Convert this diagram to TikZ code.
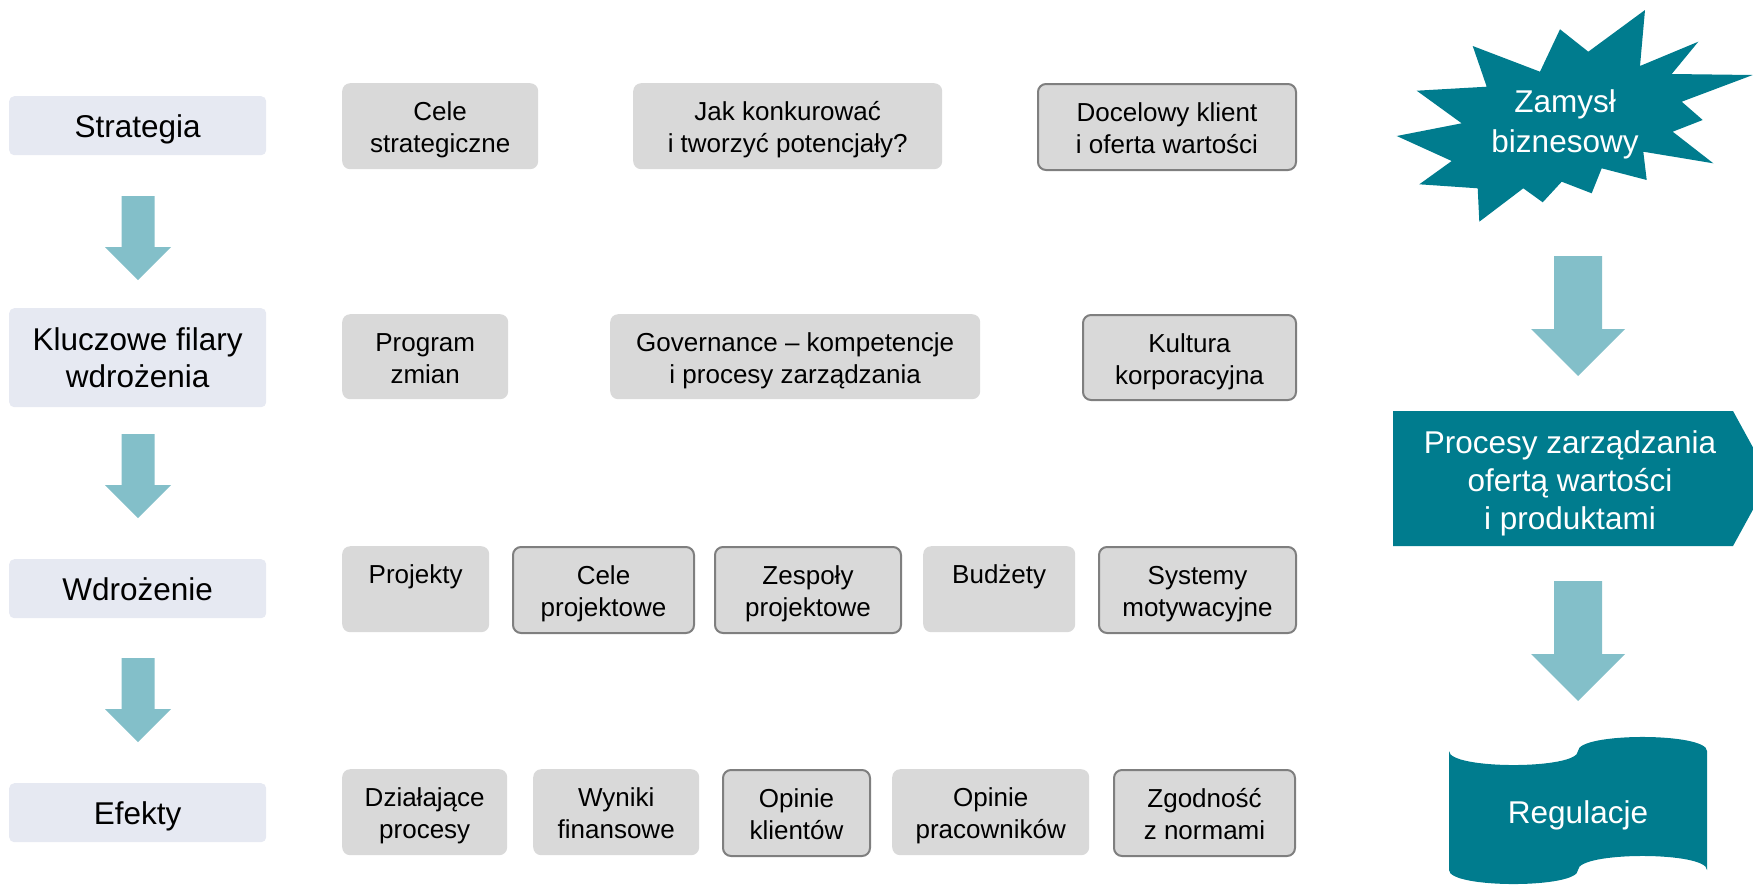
\documentclass[tikz,border=0pt]{standalone}
\usepackage{fontspec}
\setmainfont{Liberation Sans}
\definecolor{lblue}{HTML}{E6E9F2}
\definecolor{gfill}{HTML}{D9D9D9}
\definecolor{gline}{HTML}{7F7F7F}
\definecolor{teal}{HTML}{007C8E}
\definecolor{arrowc}{HTML}{83BFC9}
% block arrow pointing down: centre x, top, head base, tip, shaft half width, head half width
\newcommand{\blockdown}[6]{%
  \fill[arrowc] (#1-#5,#2) -- (#1+#5,#2) -- (#1+#5,#3) -- (#1+#6,#3)
    -- (#1,#4) -- (#1-#6,#3) -- (#1-#5,#3) -- cycle;}
% fixed line extents so every two-line label sits at the same height
\newcommand{\topstrut}{\rule{0pt}{28pt}}
\newcommand{\botstrut}{\rule[-6.5pt]{0pt}{6.5pt}}
\newcommand{\twolines}[2]{\topstrut#1\\#2\botstrut}
\tikzset{
  lbox/.style={fill=lblue, rounded corners=5pt, minimum width=257pt,
    anchor=north west, inner sep=0pt, align=center,
    font=\fontsize{31.5}{37}\selectfont},
  lone/.style={lbox, minimum height=59pt, text height=30pt, text depth=6pt},
  gbox/.style={fill=gfill, rounded corners=8pt, anchor=north west,
    inner sep=0pt, align=center, minimum height=86pt,
    font=\fontsize{26}{32}\selectfont},
  gboxb/.style={gbox, draw=gline, line width=2pt},
  wtext/.style={text=white, align=center, inner sep=0pt,
    font=\fontsize{31.5}{38}\selectfont},
}
\begin{document}
\begin{tikzpicture}[x=1pt, y=-1pt]
\useasboundingbox (0,0) rectangle (1753,884);

% left column: stages
\node[lone] (strat) at (9,96) {Strategia};
\node[lbox, minimum height=99pt] (filary) at (9,308) {Kluczowe filary\\wdrożenia};
\node[lone] (wdroz) at (9,559) {Wdrożenie};
\node[lone] (efekty) at (9,783) {Efekty};

\blockdown{138}{196}{247}{280}{16.5}{33}
\blockdown{138}{434}{485}{518}{16.5}{33}
\blockdown{138}{658}{709}{742}{16.5}{33}

% row 1
\node[gbox, minimum width=196pt] (celestr) at (342,83) {\twolines{Cele}{strategiczne}};
\node[gbox, minimum width=309pt] (konk) at (633,83) {\twolines{Jak konkurować}{i tworzyć potencjały?}};
\node[gboxb, minimum width=258pt] (klient) at (1037,83) {\twolines{Docelowy klient}{i oferta wartości}};

% row 2
\node[gbox, minimum width=166pt, minimum height=85pt] (program) at (342,314) {\twolines{Program}{zmian}};
\node[gbox, minimum width=370pt, minimum height=85pt] (gov) at (610,314) {\twolines{Governance – kompetencje}{i procesy zarządzania}};
\node[gboxb, minimum width=213pt, minimum height=85pt] (kultura) at (1082,314) {\twolines{Kultura}{korporacyjna}};

% row 3
\node[gbox, minimum width=147pt] (projekty) at (342,546) {\twolines{Projekty}{\mbox{}}};
\node[gboxb, minimum width=181pt] (celeproj) at (512,546) {\twolines{Cele}{projektowe}};
\node[gboxb, minimum width=186pt] (zespoly) at (714,546) {\twolines{Zespoły}{projektowe}};
\node[gbox, minimum width=152pt] (budzety) at (923,546) {\twolines{Budżety}{\mbox{}}};
\node[gboxb, minimum width=197pt] (systemy) at (1098,546) {\twolines{Systemy}{motywacyjne}};

% row 4
\node[gbox, minimum width=165pt] (dzial) at (342,769) {\twolines{Działające}{procesy}};
\node[gbox, minimum width=166pt] (wyniki) at (533,769) {\twolines{Wyniki}{finansowe}};
\node[gboxb, minimum width=147pt] (klienci) at (722,769) {\twolines{Opinie}{klientów}};
\node[gbox, minimum width=197pt] (prac) at (892,769) {\twolines{Opinie}{pracowników}};
\node[gboxb, minimum width=181pt] (zgodnosc) at (1113,769) {\twolines{Zgodność}{z normami}};

% right column: explosion shape
\fill[teal] (1645,10) -- (1640,66) -- (1698.3,41.7) -- (1671.7,74) -- (1752.7,75)
  -- (1681.7,101.7) -- (1702.7,120) -- (1672.7,131.7) -- (1713.3,163.3)
  -- (1643.3,151.7) -- (1646.7,180) -- (1601.7,168.3) -- (1591.7,193.3)
  -- (1561.7,181.7) -- (1542.7,202.3) -- (1523.3,188.3) -- (1479.3,221.7)
  -- (1477.7,188.3) -- (1419.3,184.3) -- (1451.7,161) -- (1396.7,136)
  -- (1461.7,123.3) -- (1416.7,90.7) -- (1486.7,86.7) -- (1472.7,46)
  -- (1540,71.7) -- (1560,29.3) -- (1588.3,51.7) -- cycle;
\node[wtext, font=\fontsize{31.5}{40}\selectfont] (zamysl) at (1565,124) {Zamysł\\biznesowy};

\blockdown{1578}{256}{329}{376}{24}{47}

% right column: process pentagon
\fill[teal] (1393,411) -- (1733,411) -- (1770,478.5) -- (1733,546) -- (1393,546) -- cycle;
\node[wtext] (procesy) at (1570,483) {Procesy zarządzania\\ofertą wartości\\i produktami};

\blockdown{1578}{581}{654}{701}{24}{47}

% right column: punched tape
\fill[teal] (1449,751) .. controls (1449,769.7) and (1578,769.7) .. (1578,751)
  .. controls (1578,732.3) and (1707,732.3) .. (1707,751)
  -- (1707,870) .. controls (1707,851.3) and (1578,851.3) .. (1578,870)
  .. controls (1578,888.7) and (1449,888.7) .. (1449,870) -- cycle;
\node[wtext] (regulacje) at (1578,815) {Regulacje};
\end{tikzpicture}
\end{document}
